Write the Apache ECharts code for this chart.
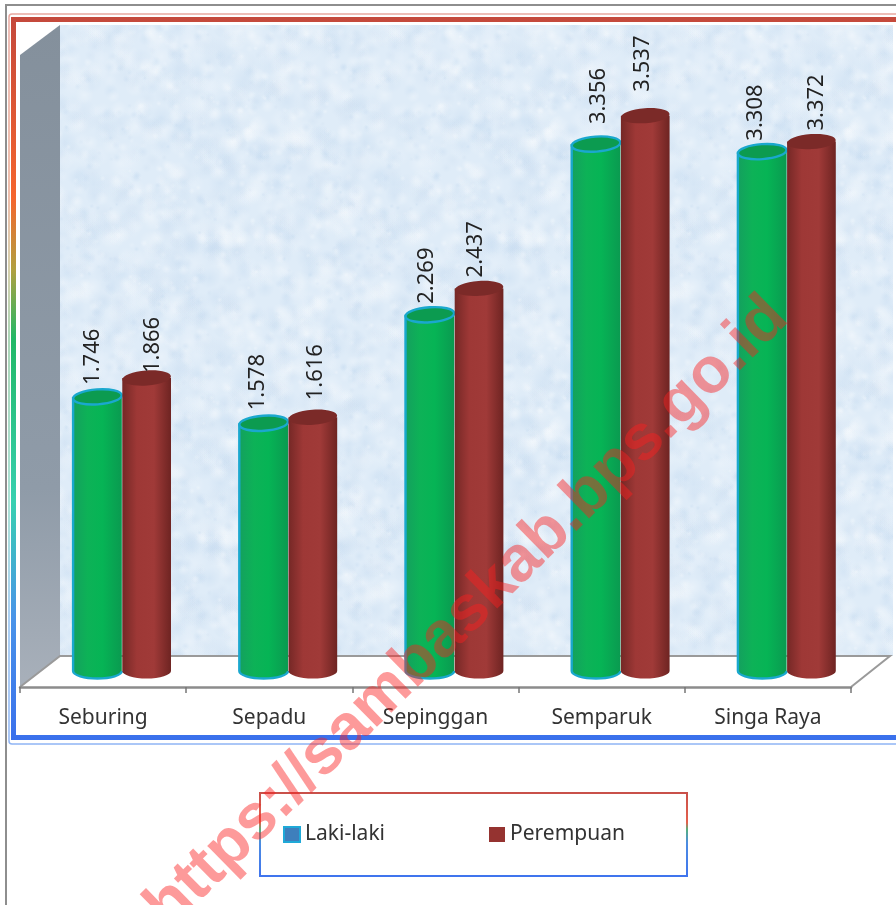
<!DOCTYPE html>
<html><head><meta charset="utf-8">
<style>html,body{margin:0;padding:0;background:#fff}#c{width:896px;height:905px}</style>
<script src="https://cdn.jsdelivr.net/npm/echarts@6/dist/echarts.min.js"></script>
</head><body><div id="c"></div>
<script>
const categories = ['Seburing','Sepadu','Sepinggan','Semparuk','Singa Raya'];
const lakiLaki = [1746,1578,2269,3356,3308];
const perempuan = [1866,1616,2437,3537,3372];
const seriesNames = ['Laki-laki','Perempuan'];
const watermark = 'https://sambaskab.bps.go.id';
// small sideways nudges of the rotated value labels, in px
const nudgeLaki = [-5,-6,-3,3,-7];
const nudgePerempuan = [6,3,-3,-3,5];
const liftLaki = [12,13,11,20,11];
const liftPerempuan = [5,17,11,24,11];

function texture(){
  const c=document.createElement('canvas');c.width=c.height=300;
  const g=c.getContext('2d');g.fillStyle='#DFECF8';g.fillRect(0,0,300,300);
  let s=12345;const r=()=>{s=(s*1103515245+12345)&0x7fffffff;return s/0x7fffffff;};
  const cols=['rgba(255,255,255,','rgba(190,214,238,','rgba(240,246,252,','rgba(205,222,240,'];
  for(let i=0;i<1400;i++){
    const x=r()*300,y=r()*300,rad=2+r()*11,col=cols[Math.floor(r()*4)];
    for(const dx of [-300,0,300])for(const dy of [-300,0,300]){
      const gr=g.createRadialGradient(x+dx,y+dy,0,x+dx,y+dy,rad);
      gr.addColorStop(0,col+'0.28)');gr.addColorStop(1,col+'0)');
      g.fillStyle=gr;g.fillRect(x+dx-rad,y+dy-rad,rad*2,rad*2);
    }
  }
  return c;
}
const vgrad=(stops)=>({type:'linear',x:0,y:0,x2:0,y2:1,colorStops:stops.map(a=>({offset:a[0],color:a[1]}))});
const hgrad=(stops)=>({type:'linear',x:0,y:0,x2:1,y2:0,colorStops:stops.map(a=>({offset:a[0],color:a[1]}))});
const frameGrad=vgrad([[0,'#C4493C'],[.25,'#F5652E'],[.35,'#B0A040'],[.445,'#22B866'],[.67,'#38D0B0'],[.83,'#4A94E8'],[1,'#3A70EC']]);
const frameGradLight=vgrad([[0,'#E8A8A0'],[.25,'#E8A890'],[.35,'#C8C090'],[.445,'#90C8A0'],[.67,'#90D8C8'],[.83,'#90C0F0'],[1,'#8FB4F4']]);
const legendGrad=vgrad([[0,'#C8504A'],[.36,'#E4604C'],[.44,'#55B07C'],[.6,'#4C8CE2'],[1,'#3F74EE']]);

const palettes=[
 {body:[[0,'#14A05E'],[.3,'#0DB257'],[.6,'#06B455'],[1,'#0A9A50']],top:'#0C9B50',edge:'#1AA8CE',edgeW:2.4},
 {body:[[0,'#752826'],[.3,'#9E3836'],[.65,'#A03A38'],[1,'#6E2422']],top:'#7B2A28',edge:'#7B2A28',edgeW:0}
];
function cylinder(seriesIndex,offsetFrac,nudge,lift){
  return function(params,api){
    const i=api.value(0), v=api.value(1);
    const topPt=api.coord([i,v]), basePt=api.coord([i,0]);
    const band=api.size([1,0])[0];
    const w=band*0.293, cx=topPt[0]+band*offsetFrac, rx=w/2, ry=7.5;
    const top=topPt[1], base=basePt[1], pal=palettes[seriesIndex];
    const children=[];
    const bodyPath=`M${cx-rx} ${top}L${cx-rx} ${base}A${rx} ${ry} 0 0 0 ${cx+rx} ${base}L${cx+rx} ${top}Z`;
    children.push({type:'path',shape:{pathData:bodyPath,layout:'cover',x:cx-rx,y:top,width:w,height:base+ry-top},
      style:{fill:hgrad(pal.body)}});
    if(pal.edgeW){
      children.push({type:'polyline',shape:{points:[[cx-rx,top],[cx-rx,base]]},style:{fill:null,stroke:pal.edge,lineWidth:pal.edgeW}});
      children.push({type:'path',shape:{pathData:`M${cx-rx} ${base}A${rx} ${ry} 0 0 0 ${cx+rx} ${base}`,layout:'cover',x:cx-rx,y:base,width:w,height:ry},
        style:{fill:null,stroke:pal.edge,lineWidth:pal.edgeW}});
    }
    children.push({type:'ellipse',shape:{cx:cx,cy:top,rx:rx,ry:ry},originX:cx,originY:top,rotation:0.07,
      style:{fill:pal.top,stroke:pal.edge,lineWidth:pal.edgeW||0}});
    const txt=(v/1000).toFixed(3);
    children.push({type:'text',x:cx+nudge[i],y:top-lift[i],rotation:Math.PI/2,z2:5,
      style:{text:txt,fill:'#222',font:'22px "Noto Sans"',align:'left',verticalAlign:'middle'}});
    return {type:'group',children:children};
  };
}
const ch=echarts.init(document.getElementById('c'));
const tex=texture();
ch.setOption({
  animation:false,
  backgroundColor:'#fff',
  grid:{left:20,width:831,top:43,height:628},
  xAxis:{type:'category',data:categories,offset:16,boundaryGap:true,
    axisLine:{show:true,onZero:false,lineStyle:{color:'#8C8C8C',width:2.5}},
    axisTick:{show:true,alignWithLabel:false,length:6,lineStyle:{color:'#777',width:1.5}},
    axisLabel:{interval:0,color:'#333',fontSize:21,fontFamily:'Noto Sans',margin:21},
    splitLine:{show:false}},
  yAxis:{type:'value',min:0,max:4000,show:false,splitLine:{show:false}},
  legend:{left:278,top:819,itemWidth:16,itemHeight:15,itemGap:104,
    textStyle:{color:'#333',fontSize:21,fontFamily:'Noto Sans'},
    data:[
     {name:seriesNames[0],icon:'rect',itemStyle:{color:'#3E7FBC',borderColor:'#1FA9D8',borderWidth:2}},
     {name:seriesNames[1],icon:'rect',itemStyle:{color:'#953330',borderWidth:0}}
    ]},
  graphic:{elements:[
    {type:'polyline',z:-10,shape:{points:[[6,905],[6,5],[896,5]]},style:{fill:null,stroke:'#8E8E8E',lineWidth:2}},
    {type:'rect',z:-9,shape:{x:9,y:14,width:900,height:730,r:3},style:{fill:'#fff',stroke:frameGradLight,lineWidth:1.5}},
    {type:'rect',z:-8,shape:{x:13.5,y:19.5,width:900,height:718},style:{fill:'#fff',stroke:frameGrad,lineWidth:5}},
    {type:'rect',z:-7,shape:{x:60,y:25,width:833,height:631},style:{fill:{image:tex,repeat:'repeat'}}},
    {type:'polygon',z:-6,shape:{points:[[20,55],[60,25],[60,656],[20,687]]},style:{fill:vgrad([[0,'#84909C'],[.7,'#8F9BA8'],[1,'#A8B0BA']])}},
    {type:'polygon',z:-6,shape:{points:[[20,687],[60,656],[890,656],[851,687]]},style:{fill:'#fff'}},
    {type:'polyline',z:-5,shape:{points:[[20,687],[60,656],[890,656],[851,687]]},style:{fill:null,stroke:'#9A9A9A',lineWidth:2}},
    {type:'rect',z:-5,shape:{x:260,y:793,width:427,height:83},style:{fill:'#fff',stroke:legendGrad,lineWidth:2}},
    {type:'text',z:100,x:134,y:895,rotation:Math.PI*0.2472,
      style:{text:watermark,fill:'rgba(250,30,30,0.45)',font:'bold 64.5px "Liberation Sans"',align:'left',verticalAlign:'alphabetic'}}
  ]},
  series:[
    {type:'custom',name:seriesNames[0],coordinateSystem:'cartesian2d',z:3,clip:false,
     itemStyle:{color:'#3E7FBC'},encode:{x:0,y:1},
     data:lakiLaki.map((v,i)=>[i,v]),renderItem:cylinder(0,-0.034,nudgeLaki,liftLaki)},
    {type:'custom',name:seriesNames[1],coordinateSystem:'cartesian2d',z:4,clip:false,
     itemStyle:{color:'#953330'},encode:{x:0,y:1},
     data:perempuan.map((v,i)=>[i,v]),renderItem:cylinder(1,0.262,nudgePerempuan,liftPerempuan)}
  ]
});
</script></body></html>
